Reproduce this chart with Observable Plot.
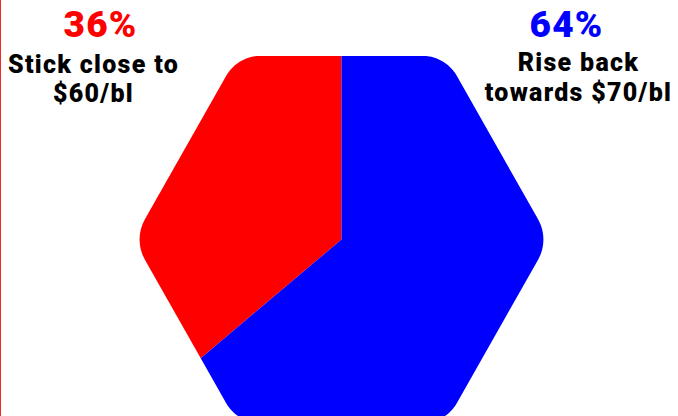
<!DOCTYPE html>
<html>
<head>
<meta charset="utf-8">
<script src="https://cdn.jsdelivr.net/npm/d3@7"></script>
<script src="https://cdn.jsdelivr.net/npm/@observablehq/plot@0.6"></script>
<style>
  html, body { margin: 0; padding: 0; background: #fff; }
  #chart { width: 678px; height: 416px; position: relative; overflow: hidden; border-left: 1px solid #ee2a2a; box-sizing: border-box; }
  svg { display: block; }
  #chart g[font-size="37"] { letter-spacing: 1.2px; }
  #chart g[font-size="25"] { letter-spacing: 1.3px; }
</style>
</head>
<body>
<div id="chart"></div>
<script>
// ---- data ----
const categories = ["Stick close to $60/bl", "Rise back towards $70/bl"];
const shares = [36, 64];
const pctLabels = ["36%", "64%"];
const descLabels = ["Stick close to\n$60/bl", "Rise back\ntowards $70/bl"];
const colors = ["#ff0000", "#0000ff"];

// ---- rounded-hexagon pie geometry (unit space) ----
const cornerR = 0.19;          // corner rounding, unit radius hexagon
const apothem = Math.sqrt(3) / 2;
const innerR = (apothem - cornerR) / apothem; // inner hexagon vertex radius
const boundary = [];
for (let k = 0; k < 6; k++) {
  const va = k * Math.PI / 3;
  const cx = innerR * Math.cos(va), cy = innerR * Math.sin(va);
  for (let i = 0; i <= 24; i++) {
    const a = va - Math.PI / 6 + (i / 24) * (Math.PI / 3);
    boundary.push([cx + cornerR * Math.cos(a), cy + cornerR * Math.sin(a)]);
  }
}
function rayHit(theta) {
  const dx = Math.cos(theta), dy = Math.sin(theta);
  let best = null;
  for (let i = 0; i < boundary.length; i++) {
    const p = boundary[i], q = boundary[(i + 1) % boundary.length];
    const ex = q[0] - p[0], ey = q[1] - p[1];
    const den = dx * ey - dy * ex;
    if (Math.abs(den) < 1e-12) continue;
    const t = (p[0] * ey - p[1] * ex) / den;
    const u = (p[0] * dy - p[1] * dx) / den;
    if (t > 0 && u >= -1e-9 && u <= 1 + 1e-9 && (best === null || t < best)) best = t;
  }
  return [best * dx, best * dy];
}
const total = d3.sum(shares);
const rows = [];
let start = Math.PI / 2; // start at 12 o'clock, go counter-clockwise
shares.forEach((v, i) => {
  const end = start + (v / total) * 2 * Math.PI;
  const pts = [[0, 0], rayHit(start)];
  const inner = boundary
    .map(p => {
      let a = Math.atan2(p[1], p[0]);
      while (a < start) a += 2 * Math.PI;
      while (a >= start + 2 * Math.PI) a -= 2 * Math.PI;
      return {p, a};
    })
    .filter(d => d.a > start && d.a < end)
    .sort((a, b) => a.a - b.a)
    .map(d => d.p);
  pts.push(...inner, rayHit(end), [0, 0]);
  pts.forEach(([x, y]) => rows.push({series: categories[i], x, y}));
  start = end;
});

const labels = categories.map((c, i) => ({series: c, pct: pctLabels[i], desc: descLabels[i]}));
const font = "Roboto, 'Open Sans', sans-serif";

const chart = Plot.plot({
  width: 677,
  height: 416,
  margin: 0,
  x: {domain: [-1, 1], range: [132, 548], axis: null},
  y: {domain: [-1, 1], range: [451, 27], axis: null},
  color: {domain: categories, range: colors},
  style: {fontFamily: font, background: "#fff"},
  marks: [
    Plot.line(rows, {x: "x", y: "y", z: "series", fill: "series", stroke: "none", curve: "linear"}),
    Plot.text([labels[0]], {text: "pct", fill: "series", frameAnchor: "top-left", dx: 99, dy: 36, lineAnchor: "bottom", textAnchor: "middle", fontSize: 37, fontWeight: 900}),
    Plot.text([labels[0]], {text: "desc", fill: "#000", frameAnchor: "top-left", dx: 92, dy: 101, lineAnchor: "bottom", textAnchor: "middle", fontSize: 25, fontWeight: 900, lineHeight: 1.16}),
    Plot.text([labels[1]], {text: "pct", fill: "series", frameAnchor: "top-left", dx: 565, dy: 36, lineAnchor: "bottom", textAnchor: "middle", fontSize: 37, fontWeight: 900}),
    Plot.text([labels[1]], {text: "desc", fill: "#000", frameAnchor: "top-left", dx: 577, dy: 100, lineAnchor: "bottom", textAnchor: "middle", fontSize: 25, fontWeight: 900, lineHeight: 1.2})
  ]
});
document.getElementById("chart").appendChild(chart);
</script>
</body>
</html>
